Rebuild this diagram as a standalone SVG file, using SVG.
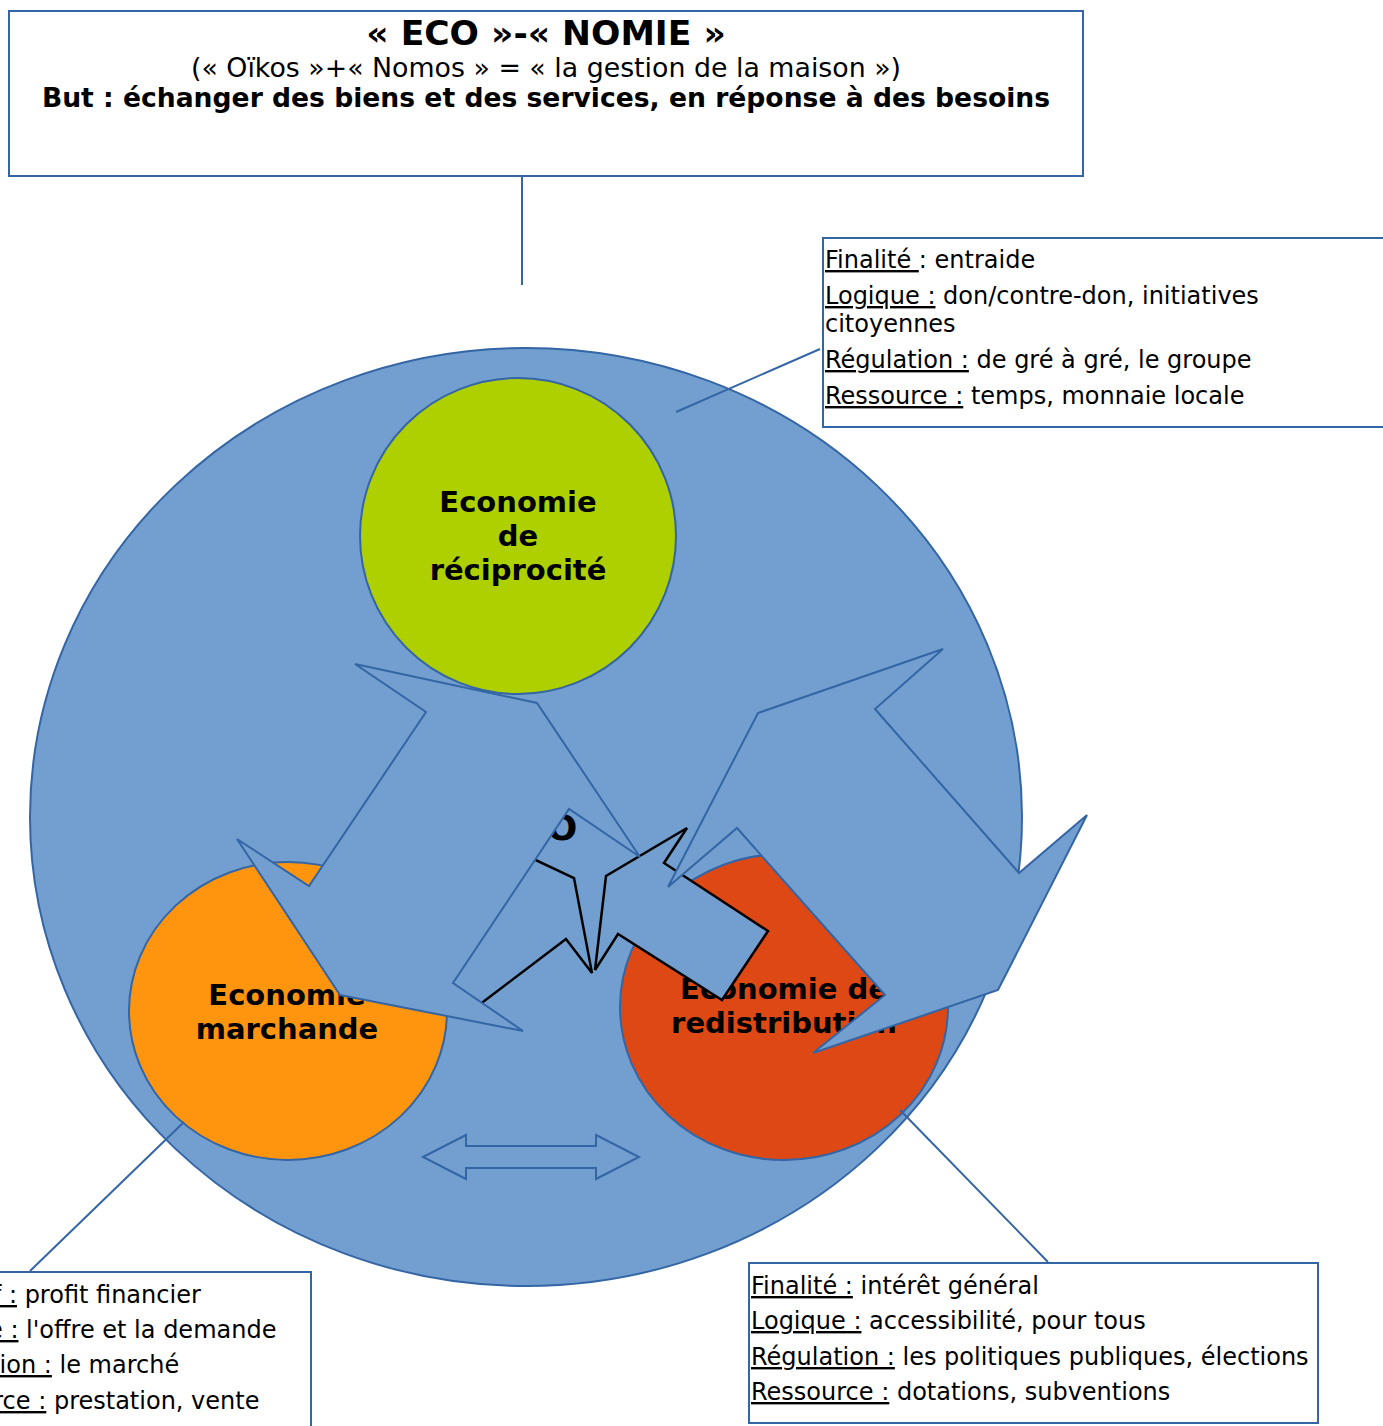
<svg xmlns="http://www.w3.org/2000/svg" width="1383" height="1426" viewBox="0 0 1383 1426">
<style>
.box{fill:#ffffff;stroke:#3465a4;stroke-width:2}
.conn{stroke:#3465a4;stroke-width:2;fill:none}
.blue{fill:#729fcf;stroke:#3465a4;stroke-width:2}
.blk{fill:#729fcf;stroke:#000000;stroke-width:2.5;stroke-linejoin:miter}
.t{font-family:"DejaVu Sans",sans-serif;fill:#000000}
.b{font-weight:bold}
.info{font-family:"DejaVu Sans",sans-serif;font-size:24px;fill:#000000}
.u{text-decoration:underline}
.ct{font-family:"DejaVu Sans",sans-serif;font-size:29px;font-weight:bold;text-anchor:middle;fill:#000000}
</style>
<rect width="1383" height="1426" fill="#ffffff"/>

<g id="node-title">
  <rect class="box" x="9" y="11" width="1074" height="165"/>
  <text class="t b" x="546" y="45" font-size="34.6" text-anchor="middle">« ECO »-« NOMIE »</text>
  <text class="t" x="546" y="77" font-size="26.8" text-anchor="middle">(« Oïkos »+« Nomos » = « la gestion de la maison »)</text>
  <text class="t b" x="546" y="107" font-size="26.6" text-anchor="middle">But : échanger des biens et des services, en réponse à des besoins</text>
</g>

<g id="node-economie">
  <ellipse class="blue" cx="526" cy="817" rx="496" ry="469"/>
</g>

<g id="node-reciprocite">
  <ellipse cx="518" cy="536" rx="158" ry="158" fill="#aecf00" stroke="#3465a4" stroke-width="2"/>
  <text class="ct" x="518" y="512">Economie</text>
  <text class="ct" x="518" y="546">de</text>
  <text class="ct" x="518" y="580">réciprocité</text>
</g>

<g id="node-marchande">
  <ellipse cx="288" cy="1011" rx="159" ry="149" fill="#ff950e" stroke="#3465a4" stroke-width="2"/>
  <text class="ct" x="287" y="1005">Economie</text>
  <text class="ct" x="287" y="1039">marchande</text>
</g>

<g id="node-redistribution">
  <ellipse cx="784" cy="1007" rx="164" ry="153" fill="#dd4814" stroke="#3465a4" stroke-width="2"/>
  <text class="ct" x="784" y="999">Economie de</text>
  <text class="ct" x="784" y="1033">redistribution</text>
</g>

<g id="shapes">
  <polygon class="blk" points="500,850 525,855 574,878 592,973 566,939 475,1008 440,990"/>
  <polygon class="blk" points="687,828 606,876 595,970 618,934 722,1000 768,931 664,863"/>
  <text class="t b" x="562" y="840" font-size="36" text-anchor="middle">O</text>
  <polygon class="blue" points="355,664 537,703 640,857 569,809 453,983 523,1031 340,995 237,839 309,886 426,712"/>
  <polygon class="blue" points="943,649 758,713 668,887 737,828 885,995 813,1053 998,990 1087,815 1019,873 875,709"/>
  <polygon class="blue" points="423,1157 466,1135 466,1146 596,1146 596,1135 639,1157 596,1179 596,1168 466,1168 466,1179"/>
</g>

<g id="node-info-reciprocite">
  <rect class="box" x="823" y="238" width="600" height="189"/>
  <text class="info" x="825" y="268"><tspan class="u">Finalité </tspan>: entraide</text>
  <text class="info" x="825" y="304"><tspan class="u">Logique :</tspan> don/contre-don, initiatives</text>
  <text class="info" x="825" y="332">citoyennes</text>
  <text class="info" x="825" y="368"><tspan class="u">Régulation :</tspan> de gré à gré, le groupe</text>
  <text class="info" x="825" y="404"><tspan class="u">Ressource :</tspan> temps, monnaie locale</text>
</g>

<g id="node-info-marchande">
  <rect class="box" x="-100" y="1272" width="411" height="200"/>
  <text class="info" x="-92" y="1303"><tspan class="u">Objectif :</tspan> profit financier</text>
  <text class="info" x="-92" y="1338"><tspan class="u">Logique :</tspan> l'offre et la demande</text>
  <text class="info" x="-92" y="1373"><tspan class="u">Régulation :</tspan> le marché</text>
  <text class="info" x="-92" y="1409"><tspan class="u">Ressource :</tspan> prestation, vente</text>
</g>

<g id="node-info-redistribution">
  <rect class="box" x="749" y="1263" width="569" height="160"/>
  <text class="info" x="751" y="1294"><tspan class="u">Finalité :</tspan> intérêt général</text>
  <text class="info" x="751" y="1329"><tspan class="u">Logique :</tspan> accessibilité, pour tous</text>
  <text class="info" x="751" y="1365"><tspan class="u">Régulation :</tspan> les politiques publiques, élections</text>
  <text class="info" x="751" y="1400"><tspan class="u">Ressource :</tspan> dotations, subventions</text>
</g>

<g id="connectors">
  <line class="conn" x1="522" y1="177" x2="522" y2="285"/>
  <line class="conn" x1="820" y1="349" x2="676" y2="412"/>
  <line class="conn" x1="184" y1="1122" x2="30" y2="1271"/>
  <line class="conn" x1="900" y1="1110" x2="1048" y2="1262"/>
</g>
</svg>
